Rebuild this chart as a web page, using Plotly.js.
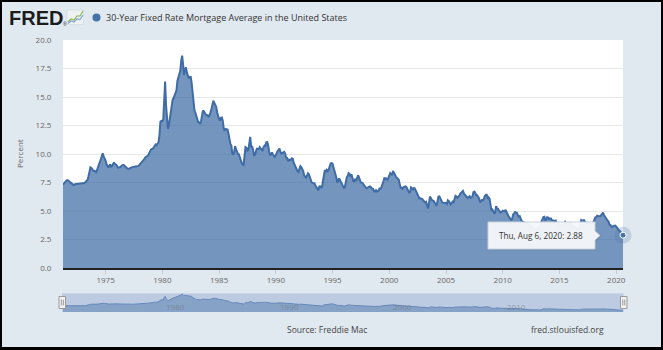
<!DOCTYPE html>
<html>
<head>
<meta charset="utf-8">
<script src="https://cdn.plot.ly/plotly-3.0.1.min.js"></script>
<style>
html,body{margin:0;padding:0;background:#e1e9f0;}
#wrap{position:relative;width:663px;height:350px;}
#chart{position:absolute;left:0;top:0;width:663px;height:350px;}
#frame{position:absolute;left:0;top:0;width:663px;height:350px;box-sizing:border-box;border:2px solid #000;border-bottom-width:3px;pointer-events:none;}
</style>
</head>
<body>
<div id="wrap"><div id="chart"></div><div id="frame"></div></div>
<script>
// ---- Data: monthly 30-year fixed mortgage rate (percent) ----
const seriesName = "30-Year Fixed Rate Mortgage Average in the United States";
const startYear = 1971, startMonth = 4; // first value is April 1971
const rates1970s = [ // Apr 1971 - Dec 1979
  7.31,7.43,7.53,7.60,7.70,7.69,7.63,7.55,7.48,
  7.44,7.32,7.29,7.29,7.37,7.36,7.38,7.37,7.40,7.42,7.43,7.44,
  7.44,7.44,7.46,7.54,7.65,7.73,8.05,8.50,8.82,8.77,8.58,8.54,
  8.54,8.46,8.41,8.58,8.97,9.09,9.28,9.59,9.96,10.05,9.79,9.62,
  9.43,9.10,8.89,8.82,8.99,9.10,8.88,8.94,9.13,9.22,9.14,9.10,
  8.99,8.80,8.81,8.80,8.86,8.99,9.02,9.05,8.97,8.88,8.81,8.73,
  8.71,8.70,8.76,8.81,8.86,8.87,8.88,8.90,8.89,8.93,8.94,8.96,
  9.07,9.16,9.20,9.29,9.41,9.56,9.69,9.75,9.78,9.86,10.06,10.29,
  10.39,10.45,10.47,10.57,10.69,10.83,10.77,10.88,11.03,11.64,12.83,12.90
];
const rates1980s = [
  12.88,13.04,15.28,16.35,14.26,12.71,12.19,12.56,13.20,13.79,14.21,14.79,
  14.90,15.13,15.40,15.58,16.40,16.70,16.83,17.29,18.16,18.63,17.83,16.92,
  17.40,17.60,17.16,16.89,16.68,16.70,16.82,16.27,15.43,14.61,13.83,13.62,
  13.25,13.04,12.80,12.78,12.63,12.87,13.42,13.81,13.73,13.54,13.44,13.42,
  13.37,13.23,13.39,13.65,13.94,14.42,14.67,14.47,14.35,14.13,13.64,13.18,
  13.08,12.92,13.17,13.20,12.91,12.22,12.03,12.19,12.19,12.14,11.78,11.26,
  10.88,10.71,10.08,9.94,10.14,10.68,10.51,10.20,10.01,9.98,9.70,9.32,
  9.20,9.08,9.04,9.83,10.60,10.54,10.28,10.33,10.89,11.50,10.65,10.64,
  10.38,9.89,9.93,10.20,10.46,10.46,10.43,10.60,10.48,10.30,10.27,10.61,
  10.73,10.65,11.03,11.05,10.77,10.20,9.88,9.99,10.13,9.95,9.77,9.74
];
const rates1990s = [
  9.90,10.20,10.27,10.37,10.48,10.16,10.04,10.10,10.18,10.18,10.01,9.67,
  9.64,9.37,9.50,9.49,9.47,9.62,9.58,9.24,9.01,8.86,8.71,8.50,
  8.43,8.76,8.94,8.85,8.67,8.51,8.13,7.98,7.92,8.09,8.31,8.22,
  7.99,7.68,7.50,7.47,7.47,7.42,7.21,7.11,6.92,6.83,7.16,7.17,
  7.06,7.15,7.68,8.32,8.60,8.40,8.61,8.51,8.64,8.93,9.17,9.20,
  9.15,8.83,8.46,8.32,7.96,7.57,7.61,7.86,7.64,7.48,7.38,7.20,
  7.03,7.08,7.62,7.93,8.07,8.32,8.25,8.00,8.23,7.92,7.62,7.60,
  7.82,7.65,7.90,8.14,7.94,7.69,7.50,7.48,7.43,7.29,7.21,7.10,
  6.99,7.04,7.13,7.14,7.14,7.00,6.95,6.92,6.72,6.71,6.87,6.72,
  6.79,6.81,7.04,6.92,7.15,7.55,7.63,7.94,7.82,7.85,7.74,7.91
];
const rates2000s = [
  8.21,8.33,8.24,8.15,8.52,8.29,8.15,8.03,7.91,7.80,7.75,7.38,
  7.03,7.05,6.95,7.08,7.15,7.16,7.13,6.95,6.82,6.62,6.66,7.07,
  7.00,6.89,7.01,6.99,6.81,6.65,6.49,6.29,6.09,6.11,6.07,6.05,
  5.92,5.84,5.75,5.81,5.48,5.23,5.63,6.26,6.15,5.95,5.93,5.88,
  5.71,5.64,5.45,5.83,6.27,6.29,6.06,5.87,5.75,5.72,5.73,5.75,
  5.71,5.63,5.93,5.86,5.72,5.58,5.70,5.82,5.77,6.07,6.33,6.27,
  6.15,6.25,6.32,6.51,6.60,6.68,6.76,6.52,6.40,6.36,6.24,6.14,
  6.22,6.29,6.16,6.18,6.26,6.66,6.70,6.57,6.38,6.38,6.21,6.10,
  5.76,5.92,5.97,5.92,6.04,6.32,6.43,6.48,6.04,6.20,6.09,5.29,
  5.06,5.13,5.00,4.81,4.86,5.42,5.22,5.19,5.06,4.95,4.88,4.93
];
const rates2010s = [
  5.03,4.99,4.97,5.10,4.89,4.74,4.56,4.43,4.35,4.23,4.30,4.71,
  4.76,4.95,4.84,4.84,4.64,4.51,4.55,4.27,4.11,4.07,3.99,3.96,
  3.92,3.89,3.95,3.91,3.80,3.68,3.55,3.60,3.50,3.38,3.35,3.35,
  3.41,3.53,3.57,3.45,3.54,4.07,4.37,4.46,4.49,4.19,4.26,4.46,
  4.43,4.30,4.34,4.34,4.19,4.16,4.13,4.12,4.16,3.92,3.92,3.86,
  3.67,3.71,3.77,3.67,3.84,3.98,4.05,3.91,3.89,3.80,3.94,3.96,
  3.87,3.66,3.69,3.61,3.60,3.57,3.44,3.44,3.46,3.47,3.77,4.20,
  4.15,4.17,4.20,4.05,4.01,3.90,3.97,3.88,3.81,3.90,3.92,3.95,
  4.03,4.33,4.44,4.47,4.59,4.57,4.53,4.55,4.63,4.83,4.87,4.64,
  4.46,4.37,4.27,4.14,4.07,3.80,3.77,3.62,3.61,3.69,3.70,3.72
];
const rates2020 = [3.62,3.47,3.45,3.31,3.23,3.16,3.02]; // Jan - Jul 2020
const lastDate = "2020-08-06";
const lastRate = 2.88;
const tooltipText = "Thu, Aug 6, 2020: 2.88";
const yearTicks = [1975,1980,1985,1990,1995,2000,2005,2010,2015,2020];
const navYears = [1980,1990,2000,2010];
const sourceText = "Source: Freddie Mac";
const siteText = "fred.stlouisfed.org";

// ---- build series ----
const values = [].concat(rates1970s, rates1980s, rates1990s, rates2000s, rates2010s, rates2020);
const dates = [];
for (let i = 0; i < values.length; i++) {
  const m = startMonth - 1 + i;
  const y = startYear + Math.floor(m / 12);
  const mm = (m % 12) + 1;
  dates.push(y + "-" + String(mm).padStart(2, "0") + "-01");
}
dates.push(lastDate); values.push(lastRate);

// ---- pixel helpers for decorations ----
const M = {l:63, r:40, t:40, b:38};
const W = 663 - M.l - M.r, H = 350 - M.t - M.b;
const px = x => (x - M.l) / W;
const py = y => (350 - M.b - y) / H;
const xRange = ["1971-04-02", lastDate];
const blue = "#4572a7";

const traces = [
  {x: dates, y: values, type: "scatter", mode: "lines", fill: "tozeroy",
   fillcolor: "rgba(69,114,167,0.75)", line: {color: "#3f6ca6", width: 2},
   xaxis: "x", yaxis: "y", hoverinfo: "skip"},
  {x: dates, y: values, type: "scatter", mode: "lines", fill: "tozeroy",
   fillcolor: "rgba(69,114,167,0.45)", line: {color: "#6688bb", width: 1},
   xaxis: "x2", yaxis: "y2", hoverinfo: "skip"},
  {x: [lastDate], y: [lastRate], type: "scatter", mode: "markers", cliponaxis: false,
   marker: {size: 17, color: "rgba(69,114,167,0.22)"}, xaxis: "x", yaxis: "y", hoverinfo: "skip"},
  {x: [lastDate], y: [lastRate], type: "scatter", mode: "markers", cliponaxis: false,
   marker: {size: 6, color: blue, line: {color: "#ffffff", width: 1}}, xaxis: "x", yaxis: "y", hoverinfo: "skip"}
];

function path(pts) {
  return "M " + pts.map(p => px(p[0]) + "," + py(p[1])).join(" L ") + " Z";
}
function line(pts) {
  return "M " + pts.map(p => px(p[0]) + "," + py(p[1])).join(" L ");
}

const shapes = [
  // navigator background
  {type: "rect", xref: "paper", yref: "paper", x0: px(62), x1: px(623.5), y0: py(312), y1: py(293.3),
   fillcolor: "#bccbe1", line: {width: 0}, layer: "below"},
  // tooltip shadow
  {type: "path", xref: "paper", yref: "paper", layer: "above",
   path: path([[489,223.5],[596,223.5],[596,231],[601,236.5],[596,242],[596,250.5],[489,250.5]]),
   fillcolor: "rgba(0,0,0,0.07)", line: {width: 0}},
  // tooltip box
  {type: "path", xref: "paper", yref: "paper", layer: "above",
   path: path([[488,222],[595,222],[595,231],[600,235.5],[595,240],[595,249],[488,249]]),
   fillcolor: "rgba(247,248,250,0.95)", line: {color: "#c9d3de", width: 1}},
  // navigator handles
  {type: "rect", xref: "paper", yref: "paper", x0: px(59), x1: px(65.5), y0: py(308.5), y1: py(296.5),
   fillcolor: "#f2f2f2", line: {color: "#999", width: 1}},
  {type: "path", xref: "paper", yref: "paper", path: line([[61.3,299.5],[61.3,305.5]]) + " " + line([[63.3,299.5],[63.3,305.5]]),
   line: {color: "#999", width: 1}},
  {type: "rect", xref: "paper", yref: "paper", x0: px(620.5), x1: px(627), y0: py(308.5), y1: py(296.5),
   fillcolor: "#f2f2f2", line: {color: "#999", width: 1}},
  {type: "path", xref: "paper", yref: "paper", path: line([[622.8,299.5],[622.8,305.5]]) + " " + line([[624.8,299.5],[624.8,305.5]]),
   line: {color: "#999", width: 1}},
  // logo icon
  {type: "rect", xref: "paper", yref: "paper", x0: px(67), x1: px(83.5), y0: py(24.5), y1: py(10),
   fillcolor: "#eef2f3", line: {color: "#cfd8dc", width: 0.6}},
  {type: "path", xref: "paper", yref: "paper", path: line([[68,22],[71,19],[74,20],[77,16],[80,16],[83,11]]),
   line: {color: "#8db54f", width: 1.2}},
  {type: "path", xref: "paper", yref: "paper", path: line([[68,23.5],[71,21],[74,22],[77,19],[80,19.5],[83,15]]),
   line: {color: "#7ea6d4", width: 1.2}},
  // title dot
  {type: "circle", xref: "paper", yref: "paper", x0: px(92.5), x1: px(100.5), y0: py(21.5), y1: py(13.5),
   fillcolor: blue, line: {width: 0}}
];

const annotations = [
  {xref: "paper", yref: "paper", x: px(6.5), y: py(18.5), xanchor: "left", yanchor: "middle", showarrow: false,
   text: "<b>FRED</b>", font: {family: "Liberation Sans, Arial, sans-serif", size: 20, color: "#1c1c1c"}},
  {xref: "paper", yref: "paper", x: px(60.5), y: py(24), xanchor: "left", yanchor: "middle", showarrow: false,
   text: "®", font: {family: "Liberation Sans", size: 5, color: "#1c1c1c"}},
  {xref: "paper", yref: "paper", x: px(104), y: py(17.5), xanchor: "left", yanchor: "middle", showarrow: false,
   text: seriesName, font: {family: "Open Sans", size: 9, color: "#333"}},
  {xref: "paper", yref: "paper", x: px(19), y: py(154), xanchor: "center", yanchor: "middle", showarrow: false,
   text: "Percent", textangle: -90, font: {family: "Open Sans", size: 8, color: "#666"}},
  {xref: "paper", yref: "paper", x: px(541), y: py(235.5), xanchor: "center", yanchor: "middle", showarrow: false,
   text: tooltipText, font: {family: "Open Sans", size: 8.2, color: "#333"}},
  {xref: "paper", yref: "paper", x: px(326.7), y: py(329), xanchor: "center", yanchor: "middle", showarrow: false,
   text: sourceText, font: {family: "Open Sans", size: 8.5, color: "#444"}},
  {xref: "paper", yref: "paper", x: px(567.5), y: py(329), xanchor: "center", yanchor: "middle", showarrow: false,
   text: siteText, font: {family: "Open Sans", size: 8.5, color: "#444"}}
];
navYears.forEach(yr => annotations.push({
  xref: "x2", yref: "paper", x: yr + "-01-01", y: py(306), xanchor: "left", yanchor: "middle", xshift: 2,
  showarrow: false, text: String(yr), font: {family: "Open Sans", size: 8, color: "rgba(110,110,110,0.55)"}
}));

const layout = {
  width: 663, height: 350, margin: M,
  paper_bgcolor: "#e1e9f0", plot_bgcolor: "#ffffff", showlegend: false,
  font: {family: "Open Sans", color: "#666"},
  xaxis: {type: "date", range: xRange, domain: [0, 1], anchor: "y",
    tickvals: yearTicks.map(y => y + "-01-01"), ticktext: yearTicks.map(String),
    tickfont: {size: 8, color: "#666"}, showgrid: false, zeroline: false,
    showline: true, linecolor: "#222", linewidth: 1.5,
    ticks: "outside", ticklen: 4, tickcolor: "rgba(0,0,0,0.12)", tickwidth: 1, fixedrange: true},
  yaxis: {range: [0, 20], domain: [py(268), 1], anchor: "x", dtick: 2.5, tick0: 0, tickformat: ".1f",
    gridcolor: "#e8e8e8", gridwidth: 1, zeroline: false, showline: false,
    tickfont: {size: 8, color: "#666"}, ticks: "outside", ticklen: 9, tickcolor: "rgba(0,0,0,0)", fixedrange: true},
  xaxis2: {type: "date", range: xRange, domain: [0, 1], anchor: "y2", visible: false, fixedrange: true},
  yaxis2: {range: [1.5, 19.2], domain: [0, py(293.3)], anchor: "x2", visible: false, fixedrange: true},
  shapes: shapes, annotations: annotations, hovermode: false
};

Plotly.newPlot("chart", traces, layout, {staticPlot: true, displayModeBar: false});
</script>
</body>
</html>
